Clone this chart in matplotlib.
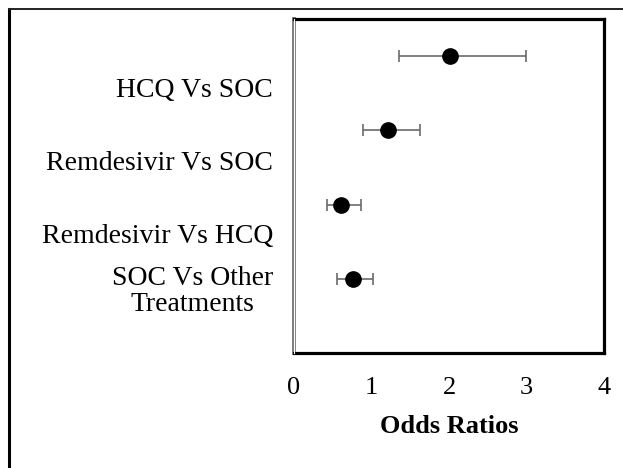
import matplotlib
matplotlib.use('Agg')
import matplotlib.pyplot as plt
from matplotlib.lines import Line2D

# odds ratios with 95% CI
comparisons = ['HCQ Vs SOC', 'Remdesivir Vs SOC', 'Remdesivir Vs HCQ',
               'SOC Vs Other\nTreatments']
odds_ratio = [2.01, 1.21, 0.61, 0.76]
ci_low = [1.36, 0.89, 0.43, 0.56]
ci_high = [2.99, 1.63, 0.86, 1.02]
rows = [4, 3, 2, 1]

# label heights (Excel puts them between the rows)
label_y = [3.58, 2.60, 1.61, 0.88]

plt.rcParams['font.family'] = ['Liberation Serif', 'DejaVu Serif']

fig = plt.figure(figsize=(6.23, 4.68), dpi=100)
ax = fig.add_axes([294 / 623, 1 - 353 / 468, (604 - 294) / 623, (353 - 19) / 468])

err_lo = [o - l for o, l in zip(odds_ratio, ci_low)]
err_hi = [h - o for o, h in zip(odds_ratio, ci_high)]
ax.errorbar(odds_ratio, rows, xerr=[err_lo, err_hi], fmt='o', color='black',
            markersize=11, ecolor='#6b6b6b', elinewidth=1.2, capsize=4.5,
            capthick=1.2, zorder=3)

ax.set_xlim(0, 4)
ax.set_ylim(0, 4.5)
ax.set_xticks([0, 1, 2, 3, 4])
ax.set_xticklabels(['0', '1', '2', '3', '4'], fontsize=19)
ax.set_yticks(label_y)
ax.set_yticklabels(comparisons, fontsize=20, linespacing=1.05)
for lab in ax.get_yticklabels():
    lab.set_multialignment('center')
ax.tick_params(axis='x', length=0, pad=17)
ax.tick_params(axis='y', length=0, pad=15)
ax.set_xlabel('Odds Ratios', fontsize=19, fontweight='bold', labelpad=12)

for side in ['top', 'right', 'bottom']:
    ax.spines[side].set_linewidth(2.3)
    ax.spines[side].set_color('black')
ax.spines['left'].set_linewidth(2.8)
ax.spines['left'].set_color('#7a7a7a')
ax.axvline(0, color='white', lw=0.8, zorder=4, clip_on=False)

# outer chart border (right and bottom are cut off in the original)
fig.add_artist(Line2D([8.5 / 623, 8.5 / 623], [0, 1 - 9 / 468], color='black', lw=2.2))
fig.add_artist(Line2D([8.5 / 623, 1], [1 - 9 / 468, 1 - 9 / 468], color='#222222', lw=1.4))

plt.savefig('out.png', dpi=100)
